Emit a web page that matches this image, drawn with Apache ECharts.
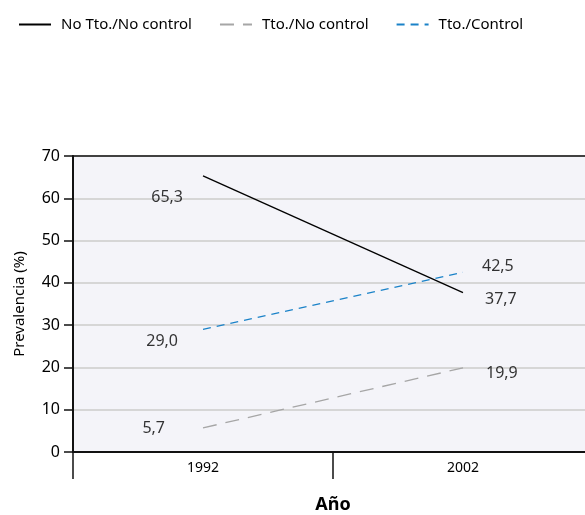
<!DOCTYPE html>
<html><head><meta charset="utf-8">
<script src="https://cdn.jsdelivr.net/npm/echarts@6/dist/echarts.min.js"></script>
<style>html,body{margin:0;padding:0;background:#fff}#c{width:585px;height:515px}</style>
</head><body><div id="c"></div>
<script>
const years = ['1992', '2002'];
const noTtoNoControl = [65.3, 37.7];
const ttoNoControl = [5.7, 19.9];
const ttoControl = [29.0, 42.5];
const yTicks = [0, 10, 20, 30, 40, 50, 60, 70];

const FONT = 'Noto Sans';
const fmt = p => p.value[1].toFixed(1).replace('.', ',');
function lbl(pos, offset, distance) {
  return { show: true, position: pos, offset: offset, distance: distance, formatter: fmt,
           color: '#000', fontSize: 16, fontFamily: FONT };
}
function labelSeries(vals, l0, l1) {
  return {
    type: 'scatter', symbolSize: 0, silent: true, z: 5,
    data: vals.map((v, i) => ({ value: [years[i], v], label: i === 0 ? l0 : l1 }))
  };
}

const chart = echarts.init(document.getElementById('c'));
chart.setOption({
  animation: false,
  textStyle: { fontFamily: FONT },
  legend: {
    top: 12, left: 13, itemGap: 27, itemWidth: 32, itemHeight: 14,
    itemStyle: { color: 'transparent', borderWidth: 0, opacity: 0 },
    textStyle: { fontSize: 15, color: '#000', fontFamily: FONT, padding: [0, 0, 0, 5] },
    data: ['No Tto./No control', 'Tto./No control', 'Tto./Control']
  },
  grid: {
    left: 73, top: 156, right: -8, bottom: 63, show: true,
    outerBoundsMode: 'none', containLabel: false,
    backgroundColor: '#f4f4f9', borderWidth: 0
  },
  xAxis: [{
    type: 'category', data: years, boundaryGap: true,
    name: 'Año', nameLocation: 'middle', nameGap: 44,
    nameTextStyle: { fontSize: 18, fontWeight: 'bold', color: '#000', fontFamily: FONT },
    axisLine: { lineStyle: { color: '#111', width: 2 } },
    axisTick: { show: true, length: 27, lineStyle: { color: '#111', width: 1.5 } },
    axisLabel: { fontSize: 14, color: '#000', margin: 9, fontFamily: FONT }
  }, {
    type: 'category', data: years, position: 'top',
    axisLine: { show: true, lineStyle: { color: '#111', width: 1.5 } },
    axisTick: { show: false }, axisLabel: { show: false }
  }],
  yAxis: {
    type: 'value', min: yTicks[0], max: yTicks[yTicks.length - 1], interval: 10,
    name: 'Prevalencia (%)', nameLocation: 'middle', nameGap: 46,
    nameTextStyle: { fontSize: 15, color: '#000', fontFamily: FONT },
    axisLine: { show: true, lineStyle: { color: '#111', width: 2 } },
    axisTick: { show: true, length: 9, lineStyle: { color: '#111', width: 1.5 } },
    axisLabel: { fontSize: 16, color: '#000', margin: 13, fontFamily: FONT },
    splitLine: { show: true, lineStyle: { color: '#d6d6d6', width: 2 } }
  },
  series: [
    {
      name: 'No Tto./No control', type: 'line', symbol: 'none',
      lineStyle: { color: '#000', width: 1.3 }, itemStyle: { color: '#000' },
      data: noTtoNoControl
    },
    {
      name: 'Tto./No control', type: 'line', symbol: 'none',
      lineStyle: { color: '#a6a6a6', width: 1.3, type: [14, 9] }, itemStyle: { color: '#a6a6a6' },
      data: ttoNoControl
    },
    {
      name: 'Tto./Control', type: 'line', symbol: 'none',
      lineStyle: { color: '#1a82c8', width: 1.3, type: [8, 6] }, itemStyle: { color: '#1a82c8' },
      data: ttoControl
    },
    labelSeries(noTtoNoControl, lbl('left', [0, 22], 20), lbl('right', [0, 7], 22)),
    labelSeries(ttoNoControl, lbl('left', [0, 1], 38), lbl('right', [0, 6], 23)),
    labelSeries(ttoControl, lbl('left', [0, 12], 25), lbl('right', [0, -6], 19))
  ]
});
</script></body></html>
